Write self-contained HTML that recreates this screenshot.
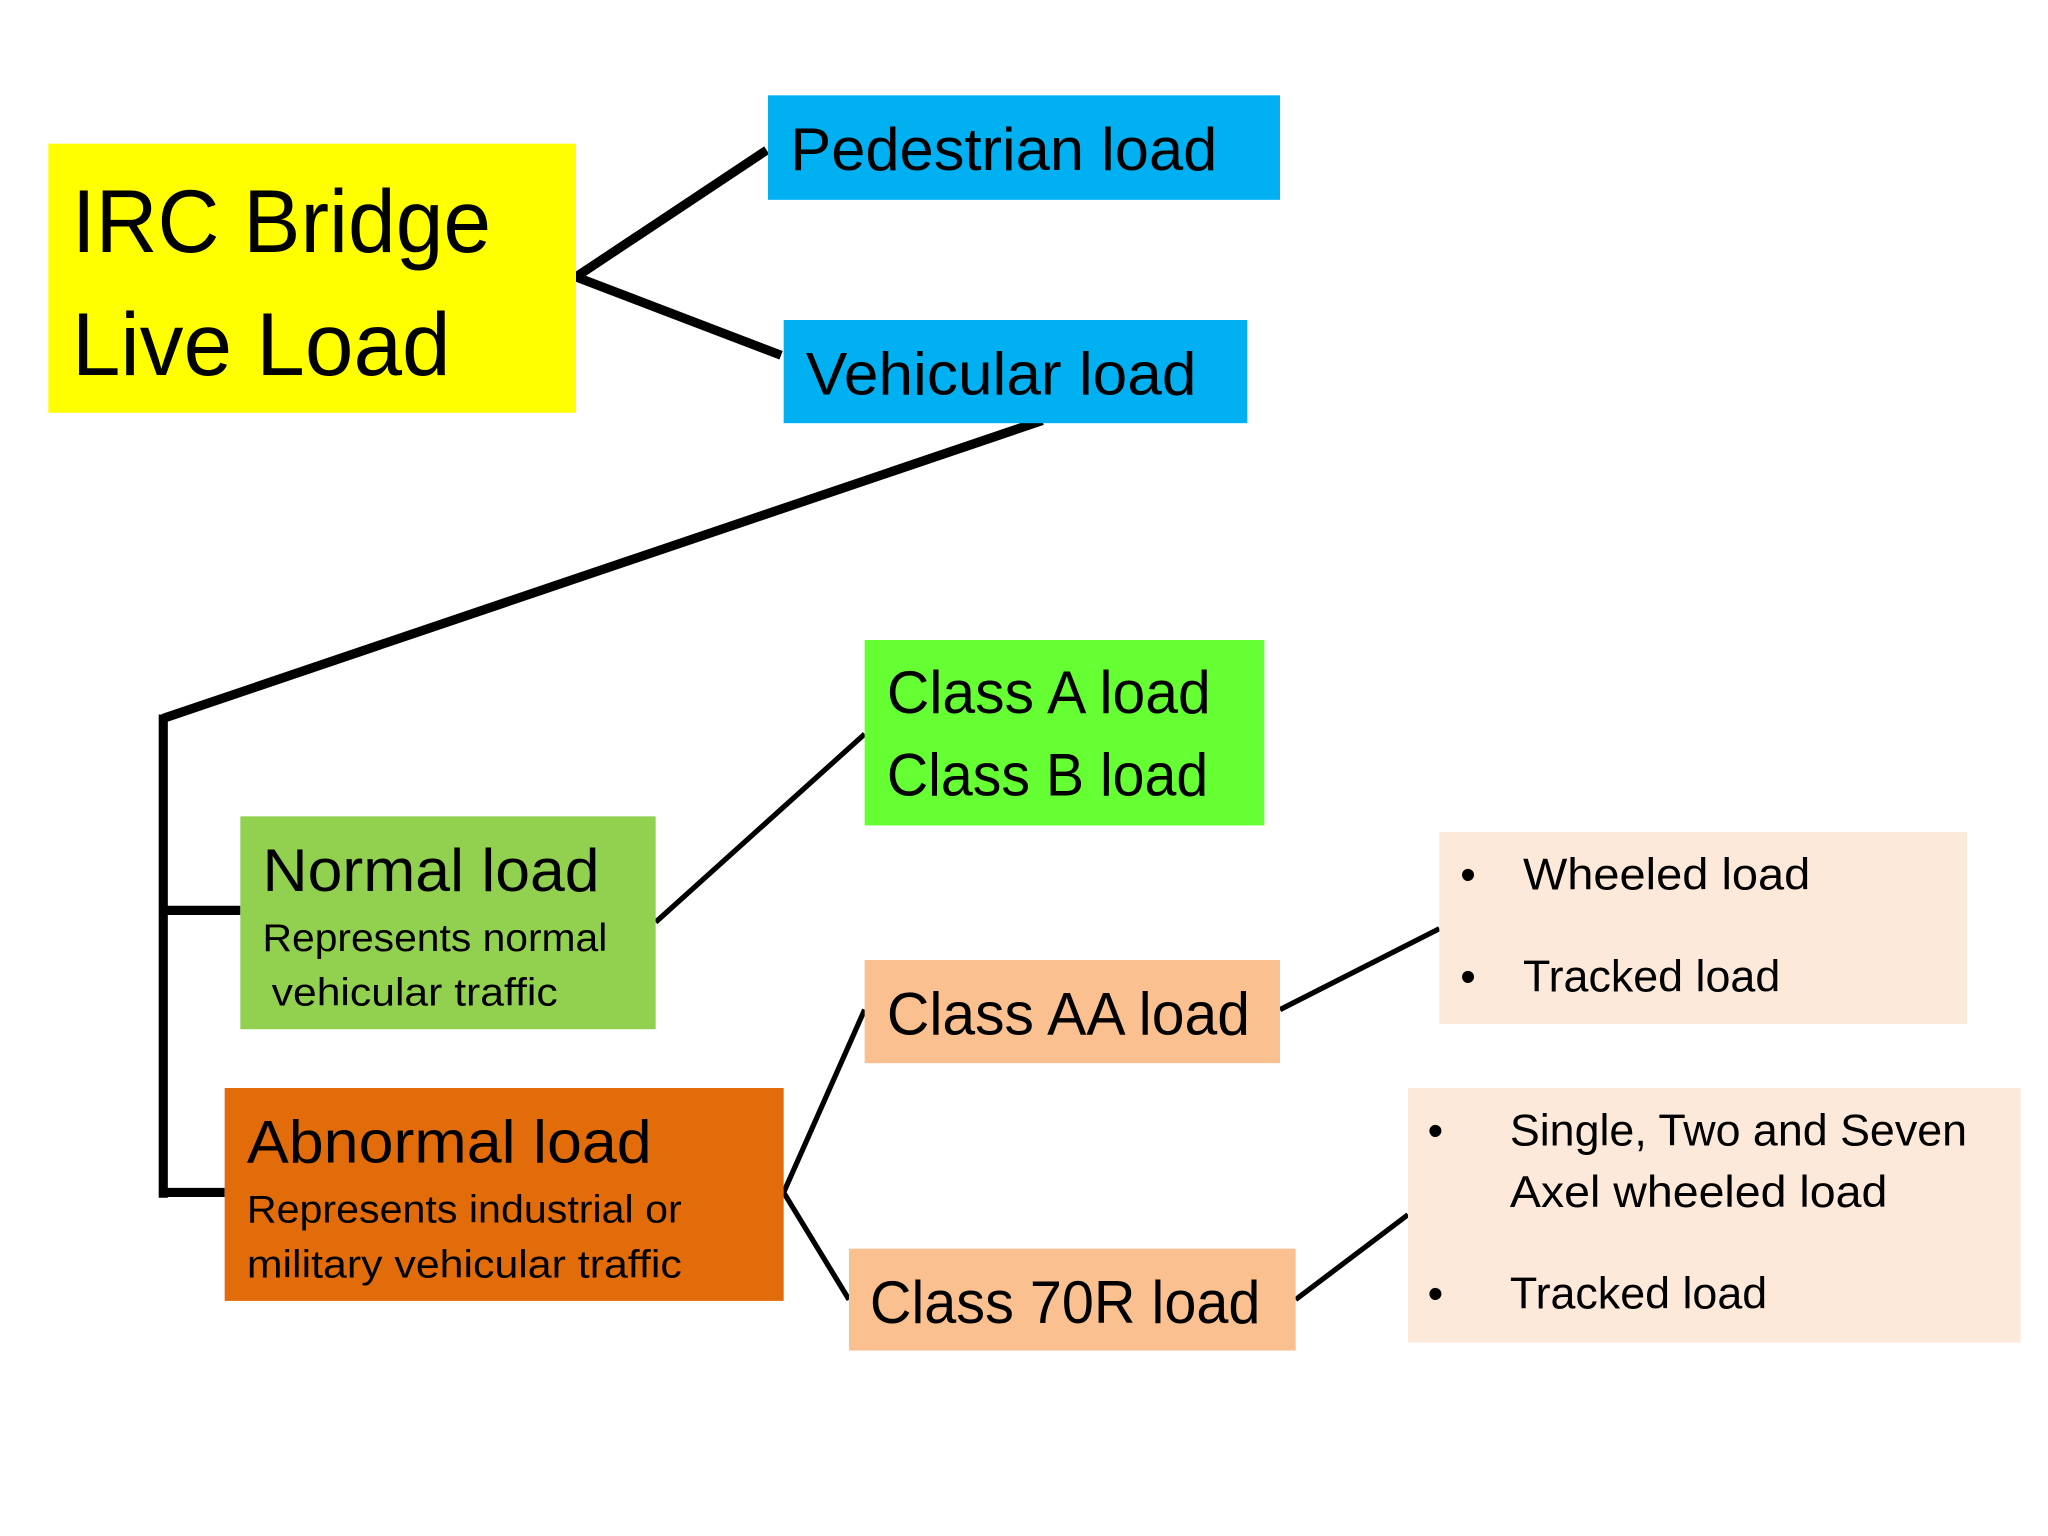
<!DOCTYPE html>
<html><head><meta charset="utf-8"><style>html,body{margin:0;padding:0;background:#fff}svg{display:block}text{font-family:"Liberation Sans",sans-serif;fill:#000}</style></head>
<body>
<svg width="2048" height="1536" viewBox="0 0 1568 1176" xmlns="http://www.w3.org/2000/svg">
<rect width="1568" height="1176" fill="#fff"/>
<g stroke="#000" stroke-width="7" fill="none" stroke-linecap="butt">
<polyline points="587,115 441,212 598,272"/>
<polyline points="798,322 125,550"/>
<line x1="125" y1="547" x2="125" y2="917"/>
<line x1="125" y1="697" x2="184" y2="697"/>
<line x1="125" y1="913" x2="172" y2="913"/>
</g>
<g stroke="#000" stroke-width="4" fill="none">
<line x1="502" y1="706" x2="662" y2="562"/>
<polyline points="662,773 600,913 650,995"/>
<line x1="980" y1="773" x2="1102" y2="711"/>
<line x1="992" y1="995" x2="1078" y2="930"/>
</g>
<rect x="37" y="110" width="404" height="206" fill="#ffff00"/>
<rect x="588" y="73" width="392" height="80" fill="#00b0f0"/>
<rect x="600" y="245" width="355" height="79" fill="#00b0f0"/>
<rect x="184" y="625" width="318" height="163" fill="#92d050"/>
<rect x="662" y="490" width="306" height="142" fill="#66ff33"/>
<rect x="172" y="833" width="428" height="163" fill="#e36c0a"/>
<rect x="662" y="735" width="318" height="79" fill="#fac090"/>
<rect x="650" y="956" width="342" height="78" fill="#fac090"/>
<rect x="1102" y="637" width="404" height="147" fill="#fde9d9"/>
<rect x="1078" y="833" width="469" height="195" fill="#fde9d9"/>
<g lengthAdjust="spacingAndGlyphs">
<text x="55" y="193" font-size="68" textLength="321" lengthAdjust="spacingAndGlyphs">IRC Bridge</text>
<text x="55" y="287" font-size="68" textLength="290" lengthAdjust="spacingAndGlyphs">Live Load</text>
<text x="605" y="130" font-size="46" textLength="327" lengthAdjust="spacingAndGlyphs">Pedestrian load</text>
<text x="617" y="302" font-size="46" textLength="299" lengthAdjust="spacingAndGlyphs">Vehicular load</text>
<text x="201" y="682" font-size="46" textLength="258" lengthAdjust="spacingAndGlyphs">Normal load</text>
<text x="201" y="728" font-size="30" textLength="264" lengthAdjust="spacingAndGlyphs">Represents normal</text>
<text x="208" y="770" font-size="30" textLength="219" lengthAdjust="spacingAndGlyphs">vehicular traffic</text>
<text x="679" y="546" font-size="46" textLength="248" lengthAdjust="spacingAndGlyphs">Class A load</text>
<text x="679" y="609" font-size="46" textLength="246" lengthAdjust="spacingAndGlyphs">Class B load</text>
<text x="189" y="890" font-size="46" textLength="310" lengthAdjust="spacingAndGlyphs">Abnormal load</text>
<text x="189" y="936" font-size="30" textLength="333" lengthAdjust="spacingAndGlyphs">Represents industrial or</text>
<text x="189" y="978" font-size="30" textLength="333" lengthAdjust="spacingAndGlyphs">military vehicular traffic</text>
<text x="679" y="792" font-size="46" textLength="278" lengthAdjust="spacingAndGlyphs">Class AA load</text>
<text x="666" y="1013" font-size="46" textLength="299" lengthAdjust="spacingAndGlyphs">Class 70R load</text>
<text x="1118" y="681" font-size="34">•</text>
<text x="1166" y="681" font-size="34" textLength="220" lengthAdjust="spacingAndGlyphs">Wheeled load</text>
<text x="1118" y="759" font-size="34">•</text>
<text x="1166" y="759" font-size="34" textLength="197" lengthAdjust="spacingAndGlyphs">Tracked load</text>
<text x="1093" y="877" font-size="34">•</text>
<text x="1156" y="877" font-size="34" textLength="350" lengthAdjust="spacingAndGlyphs">Single, Two and Seven</text>
<text x="1156" y="924" font-size="34" textLength="289" lengthAdjust="spacingAndGlyphs">Axel wheeled load</text>
<text x="1093" y="1002" font-size="34">•</text>
<text x="1156" y="1002" font-size="34" textLength="197" lengthAdjust="spacingAndGlyphs">Tracked load</text>
</g>
</svg>
</body></html>
